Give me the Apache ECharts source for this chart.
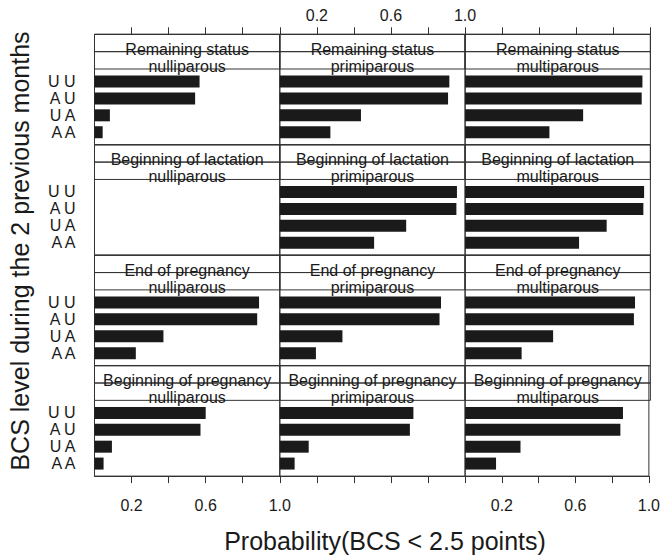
<!DOCTYPE html>
<html><head><meta charset="utf-8">
<script src="https://cdn.jsdelivr.net/npm/echarts@6/dist/echarts.min.js"></script>
<style>html,body{margin:0;padding:0;background:#fff}#c{width:663px;height:560px}</style>
</head><body><div id="c"></div>
<script>
// ---- data ----
const categories = ['U U', 'A U', 'U A', 'A A'];
const periods = ['Remaining status', 'Beginning of lactation', 'End of pregnancy', 'Beginning of pregnancy'];
const parities = ['nulliparous', 'primiparous', 'multiparous'];
const tickValues = [0.2, 0.4, 0.6, 0.8, 1.0];
const tickLabelValues = [0.2, 0.6, 1.0];
const xTitle = 'Probability(BCS < 2.5 points)';
const yTitle = 'BCS level during the 2 previous months';

// values in category order: U U, A U, U A, A A
const remainingNulli = [0.567, 0.543, 0.083, 0.044];
const remainingPrimi = [0.915, 0.908, 0.438, 0.273];
const remainingMulti = [0.957, 0.953, 0.637, 0.455];
const lactationNulli = [null, null, null, null];
const lactationPrimi = [0.956, 0.953, 0.682, 0.509];
const lactationMulti = [0.966, 0.962, 0.764, 0.615];
const endPregNulli = [0.888, 0.878, 0.372, 0.223];
const endPregPrimi = [0.870, 0.862, 0.338, 0.195];
const endPregMulti = [0.917, 0.911, 0.475, 0.305];
const begPregNulli = [0.600, 0.572, 0.094, 0.049];
const begPregPrimi = [0.721, 0.702, 0.156, 0.080];
const begPregMulti = [0.852, 0.838, 0.299, 0.167];

const panelValues = [
  [remainingNulli, remainingPrimi, remainingMulti],
  [lactationNulli, lactationPrimi, lactationMulti],
  [endPregNulli, endPregPrimi, endPregMulti],
  [begPregNulli, begPregPrimi, begPregMulti]
];

// ---- layout ----
const FONT = '"Liberation Sans", Arial, Helvetica, sans-serif';
const L = 94.5, CW = 185.3, T = 34.3, RH = 110.45, SH = 17.35;
const PITCH = 16.9, BARW = 12;
const INK = '#1a1a1a', LINE = '#333';

const grid = [], xAxis = [], yAxis = [], series = [], graphic = [];
let gi = 0;
for (let r = 0; r < 4; r++) {
  for (let c = 0; c < 3; c++) {
    const x = L + c * CW, y = T + r * RH;
    // frame grid (whole panel incl. strip)
    grid.push({ left: x, top: y, width: CW, height: RH, show: true, borderColor: LINE, borderWidth: 1, backgroundColor: 'transparent', containLabel: false });
    const showAxis = (r === 0 || r === 3);
    const showLab = r === 0 ? (c === 1) : (c !== 1);
    xAxis.push({
      gridIndex: gi, type: 'value', min: 0, max: 1, position: r === 0 ? 'top' : 'bottom',
      show: showAxis,
      axisLine: { show: true, onZero: false, lineStyle: { color: LINE, width: 1 } }, splitLine: { show: false },
      axisTick: { show: true, inside: false, length: 7, customValues: tickValues, lineStyle: { color: LINE, width: 1 } },
      axisLabel: { show: showLab, customValues: tickLabelValues, formatter: v => Number(v).toFixed(1),
        margin: r === 0 ? 11 : 21, fontSize: 16, fontFamily: FONT, color: INK }
    });
    yAxis.push({ gridIndex: gi, type: 'value', show: false, min: 0, max: 1 });
    gi++;
    // bar grid (content area)
    const contentTop = y + 2 * SH, contentH = RH - 2 * SH;
    const barTop = contentTop + (contentH - 4 * PITCH) / 2;
    grid.push({ left: x, top: barTop, width: CW, height: 4 * PITCH, show: false, containLabel: false });
    xAxis.push({ gridIndex: gi, type: 'value', min: 0, max: 1, show: false });
    yAxis.push({
      gridIndex: gi, type: 'category', data: categories, inverse: true,
      axisLine: { show: false }, axisTick: { show: false }, splitLine: { show: false },
      axisLabel: { show: c === 0, interval: 0, margin: 19, fontSize: 16, fontFamily: FONT, color: INK }
    });
    series.push({
      type: 'bar', xAxisIndex: gi, yAxisIndex: gi, data: panelValues[r][c],
      barWidth: BARW, itemStyle: { color: INK }, silent: true, animation: false
    });
    gi++;
    // strip boxes
    for (let k = 0; k < 2; k++) {
      graphic.push({ type: 'rect', shape: { x: x, y: y + k * SH, width: CW, height: SH },
        style: { fill: 'none', stroke: LINE, lineWidth: 1 }, z: 10 });
    }
    graphic.push({ type: 'text', x: x + CW / 2, y: y + SH + 5.5, z: 11,
      style: { text: periods[r], align: 'center', verticalAlign: 'bottom', font: '16px ' + FONT, fill: INK } });
    graphic.push({ type: 'text', x: x + CW / 2, y: y + 2 * SH + 5.5, z: 11,
      style: { text: parities[c], align: 'center', verticalAlign: 'bottom', font: '16px ' + FONT, fill: INK } });
  }
}
graphic.push({ type: 'text', x: 385, y: 541, z: 11,
  style: { text: xTitle, align: 'center', verticalAlign: 'middle', font: '25px ' + FONT, fill: INK } });
graphic.push({ type: 'text', x: 20, y: 251, rotation: Math.PI / 2, z: 11,
  style: { text: yTitle, align: 'center', verticalAlign: 'middle', font: '25px ' + FONT, fill: INK } });

const chart = echarts.init(document.getElementById('c'), null, { renderer: 'svg' });
chart.setOption({ animation: false, backgroundColor: '#fff', grid, xAxis, yAxis, series, graphic });
</script>
</body></html>
